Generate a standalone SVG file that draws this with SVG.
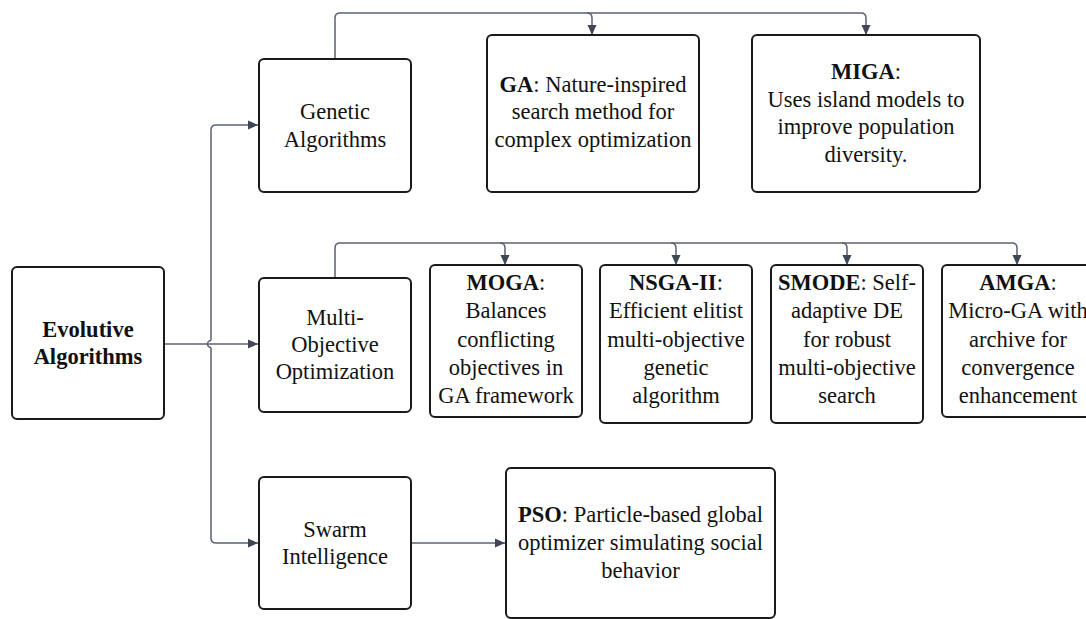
<svg xmlns="http://www.w3.org/2000/svg" width="1086" height="619" viewBox="0 0 1086 619">
  <style>
    .box { fill: #ffffff; stroke: #1a1a1a; stroke-width: 2; }
    .txt { font-family: "Liberation Serif", "Times New Roman", serif; font-size: 22.5px; fill: #111111; text-anchor: middle; }
    .b { font-weight: bold; }
    .link { fill: none; stroke: #5b6270; stroke-width: 1.5; }
    .arrow { marker-end: url(#head); }
  </style>
  <defs>
    <marker id="head" markerWidth="10" markerHeight="10" refX="10" refY="5" orient="auto" markerUnits="userSpaceOnUse">
      <path d="M0,0.5 L10,5 L0,9.5 Z" fill="#3f4757"/>
    </marker>
  </defs>

  <rect width="1086" height="619" fill="#ffffff"/>

  <!-- connectors -->
  <g id="connectors">
    <!-- root to second level -->
    <path class="link arrow" d="M164,344 H258"/>
    <path class="link arrow" d="M211,340.5 V130 Q211,125 216,125 H258"/>
    <path class="link arrow" d="M211,347.5 V538 Q211,543 216,543 H258"/>
    <path class="link" d="M211,340.5 A3.5,3.5 0 0 0 211,347.5"/>
    <!-- genetic algorithms branch -->
    <path class="link arrow" d="M335,59 V18 Q335,13 340,13 H587 Q592,13 592,18 V35"/>
    <path class="link arrow" d="M587,13 H861 Q866,13 866,18 V35"/>
    <!-- multi-objective branch -->
    <path class="link arrow" d="M335,278 V248 Q335,243 340,243 H500 Q505,243 505,248 V265"/>
    <path class="link arrow" d="M500,243 H671 Q676,243 676,248 V265"/>
    <path class="link arrow" d="M671,243 H842 Q847,243 847,248 V265"/>
    <path class="link arrow" d="M842,243 H1012 Q1017,243 1017,248 V265"/>
    <!-- swarm branch -->
    <path class="link arrow" d="M411,543 H505"/>
  </g>

  <g id="evolutive">
    <rect class="box" x="12" y="267" width="152" height="152" rx="5"/>
    <text class="txt b" x="88" y="337">Evolutive</text>
    <text class="txt b" x="88" y="364">Algorithms</text>
  </g>

  <g id="genetic">
    <rect class="box" x="259" y="59" width="152" height="133" rx="5"/>
    <text class="txt" x="335" y="119">Genetic</text>
    <text class="txt" x="335" y="147">Algorithms</text>
  </g>

  <g id="ga">
    <rect class="box" x="487" y="35" width="212" height="157" rx="5"/>
    <text class="txt" x="593" y="91.5"><tspan class="b">GA</tspan>: Nature-inspired</text>
    <text class="txt" x="593" y="119">search method for</text>
    <text class="txt" x="593" y="147">complex optimization</text>
  </g>

  <g id="miga">
    <rect class="box" x="752" y="35" width="228" height="157" rx="5"/>
    <text class="txt" x="866" y="79"><tspan class="b">MIGA</tspan>:</text>
    <text class="txt" x="866" y="106.5">Uses island models to</text>
    <text class="txt" x="866" y="134">improve population</text>
    <text class="txt" x="866" y="161.5">diversity.</text>
  </g>

  <g id="multi-objective">
    <rect class="box" x="259" y="278" width="152" height="134" rx="5"/>
    <text class="txt" x="335" y="325">Multi-</text>
    <text class="txt" x="335" y="352">Objective</text>
    <text class="txt" x="335" y="379">Optimization</text>
  </g>

  <g id="moga">
    <rect class="box" x="430" y="265" width="152" height="152" rx="5"/>
    <text class="txt" x="506" y="290"><tspan class="b">MOGA</tspan>:</text>
    <text class="txt" x="506" y="318">Balances</text>
    <text class="txt" x="506" y="346.5">conflicting</text>
    <text class="txt" x="506" y="375">objectives in</text>
    <text class="txt" x="506" y="403">GA framework</text>
  </g>

  <g id="nsga2">
    <rect class="box" x="600" y="265" width="152" height="158" rx="5"/>
    <text class="txt" x="676" y="290"><tspan class="b">NSGA-II</tspan>:</text>
    <text class="txt" x="676" y="318">Efficient elitist</text>
    <text class="txt" x="676" y="346.5">multi-objective</text>
    <text class="txt" x="676" y="375">genetic</text>
    <text class="txt" x="676" y="403">algorithm</text>
  </g>

  <g id="smode">
    <rect class="box" x="771" y="265" width="152" height="158" rx="5"/>
    <text class="txt" x="847" y="290"><tspan class="b">SMODE</tspan>: Self-</text>
    <text class="txt" x="847" y="318">adaptive DE</text>
    <text class="txt" x="847" y="346.5">for robust</text>
    <text class="txt" x="847" y="375">multi-objective</text>
    <text class="txt" x="847" y="403">search</text>
  </g>

  <g id="amga">
    <rect class="box" x="942" y="265" width="152" height="152" rx="5"/>
    <text class="txt" x="1018" y="290"><tspan class="b">AMGA</tspan>:</text>
    <text class="txt" x="1018" y="318">Micro-GA with</text>
    <text class="txt" x="1018" y="346.5">archive for</text>
    <text class="txt" x="1018" y="375">convergence</text>
    <text class="txt" x="1018" y="403">enhancement</text>
  </g>

  <g id="swarm">
    <rect class="box" x="259" y="477" width="152" height="132" rx="5"/>
    <text class="txt" x="335" y="537">Swarm</text>
    <text class="txt" x="335" y="564">Intelligence</text>
  </g>

  <g id="pso">
    <rect class="box" x="506" y="468" width="269" height="150" rx="5"/>
    <text class="txt" x="640.5" y="522"><tspan class="b">PSO</tspan>: Particle-based global</text>
    <text class="txt" x="640.5" y="550">optimizer simulating social</text>
    <text class="txt" x="640.5" y="578">behavior</text>
  </g>
</svg>
